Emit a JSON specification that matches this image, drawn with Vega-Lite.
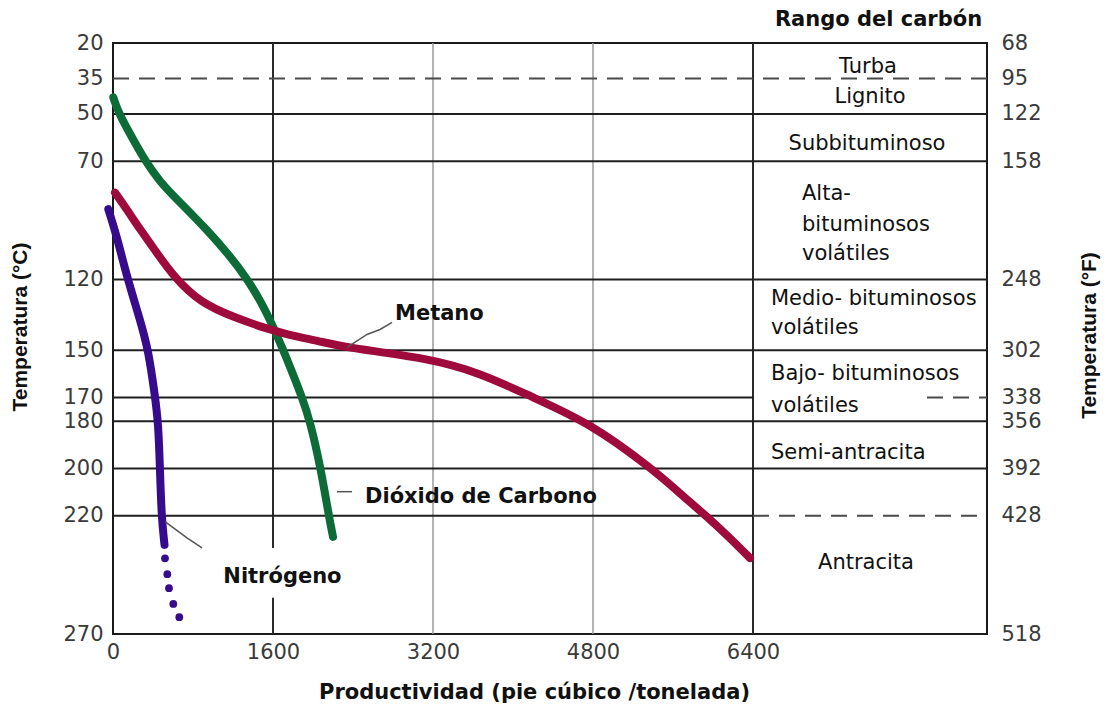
{
  "$schema": "https://vega.github.io/schema/vega-lite/v6.json",
  "width": 874,
  "height": 591,
  "autosize": {"type": "none"},
  "padding": {"left": 113, "top": 43, "right": 125, "bottom": 77},
  "background": "white",
  "config": {"view": {"stroke": "#1a1a1a", "strokeWidth": 2}},
  "datasets": {
    "vlight": [{"x": 3200}, {"x": 4800}],
    "vdark": [
      {"x": 1600, "t1": 20, "t2": 233.6},
      {"x": 1600, "t1": 254.7, "t2": 270},
      {"x": 6400, "t1": 20, "t2": 270}
    ],
    "hsolid": [
      {"t": 50, "x1": 0, "x2": 8740},
      {"t": 70, "x1": 0, "x2": 8740},
      {"t": 120, "x1": 0, "x2": 8740},
      {"t": 150, "x1": 0, "x2": 8740},
      {"t": 170, "x1": 0, "x2": 6400},
      {"t": 180, "x1": 0, "x2": 8740},
      {"t": 200, "x1": 0, "x2": 8740},
      {"t": 220, "x1": 0, "x2": 6400}
    ],
    "hdash": [
      {"t": 35, "x1": 0, "x2": 8740},
      {"t": 170, "x1": 8140, "x2": 8740},
      {"t": 220, "x1": 6400, "x2": 8740}
    ],
    "curves": [
      {"gas": "Dióxido de Carbono", "x": 3, "t": 43},
      {"gas": "Dióxido de Carbono", "x": 53, "t": 49.4},
      {"gas": "Dióxido de Carbono", "x": 200, "t": 60.7},
      {"gas": "Dióxido de Carbono", "x": 300, "t": 68.3},
      {"gas": "Dióxido de Carbono", "x": 470, "t": 78.9},
      {"gas": "Dióxido de Carbono", "x": 670, "t": 87.4},
      {"gas": "Dióxido de Carbono", "x": 935, "t": 98.8},
      {"gas": "Dióxido de Carbono", "x": 1160, "t": 109.6},
      {"gas": "Dióxido de Carbono", "x": 1340, "t": 119.6},
      {"gas": "Dióxido de Carbono", "x": 1490, "t": 130.2},
      {"gas": "Dióxido de Carbono", "x": 1600, "t": 139.8},
      {"gas": "Dióxido de Carbono", "x": 1700, "t": 149.7},
      {"gas": "Dióxido de Carbono", "x": 1790, "t": 159},
      {"gas": "Dióxido de Carbono", "x": 1890, "t": 169.8},
      {"gas": "Dióxido de Carbono", "x": 1975, "t": 180.6},
      {"gas": "Dióxido de Carbono", "x": 2080, "t": 200.5},
      {"gas": "Dióxido de Carbono", "x": 2160, "t": 220.4},
      {"gas": "Dióxido de Carbono", "x": 2200, "t": 228.9},
      {"gas": "Metano", "x": 20, "t": 83.3},
      {"gas": "Metano", "x": 137, "t": 90.3},
      {"gas": "Metano", "x": 270, "t": 98.8},
      {"gas": "Metano", "x": 437, "t": 108.7},
      {"gas": "Metano", "x": 603, "t": 118.6},
      {"gas": "Metano", "x": 870, "t": 129.9},
      {"gas": "Metano", "x": 1230, "t": 136.4},
      {"gas": "Metano", "x": 1537, "t": 140.8},
      {"gas": "Metano", "x": 1750, "t": 143.4},
      {"gas": "Metano", "x": 2070, "t": 146.2},
      {"gas": "Metano", "x": 2337, "t": 148.9},
      {"gas": "Metano", "x": 3137, "t": 153.2},
      {"gas": "Metano", "x": 3670, "t": 159.5},
      {"gas": "Metano", "x": 4170, "t": 169.4},
      {"gas": "Metano", "x": 4770, "t": 180.7},
      {"gas": "Metano", "x": 5403, "t": 200.5},
      {"gas": "Metano", "x": 5660, "t": 210.2},
      {"gas": "Metano", "x": 5930, "t": 220},
      {"gas": "Metano", "x": 6150, "t": 228.6},
      {"gas": "Metano", "x": 6370, "t": 237.9},
      {"gas": "Nitrógeno", "x": -47, "t": 90.3},
      {"gas": "Nitrógeno", "x": 37, "t": 101.6},
      {"gas": "Nitrógeno", "x": 137, "t": 118.6},
      {"gas": "Nitrógeno", "x": 270, "t": 137},
      {"gas": "Nitrógeno", "x": 353, "t": 149.7},
      {"gas": "Nitrógeno", "x": 420, "t": 169.4},
      {"gas": "Nitrógeno", "x": 453, "t": 180.7},
      {"gas": "Nitrógeno", "x": 470, "t": 200.5},
      {"gas": "Nitrógeno", "x": 485, "t": 220.3},
      {"gas": "Nitrógeno", "x": 515, "t": 232.3}
    ],
    "dots": [
      {"x": 520, "t": 238},
      {"x": 543, "t": 244.7},
      {"x": 560, "t": 250.6},
      {"x": 603, "t": 257.3},
      {"x": 663, "t": 262.9}
    ],
    "leaders": [
      {"leader": "Metano", "x": 2340, "t": 148.8},
      {"leader": "Metano", "x": 2540, "t": 143.3},
      {"leader": "Metano", "x": 2670, "t": 141.2},
      {"leader": "Metano", "x": 2790, "t": 138.2},
      {"leader": "CO2", "x": 2240, "t": 209.8},
      {"leader": "CO2", "x": 2390, "t": 209.8},
      {"leader": "N2", "x": 520, "t": 222.5},
      {"leader": "N2", "x": 740, "t": 229.3},
      {"leader": "N2", "x": 890, "t": 233.6}
    ],
    "gaslabels": [
      {"label": "Metano", "x": 2820, "t": 134.7},
      {"label": "Dióxido de Carbono", "x": 2520, "t": 212},
      {"label": "Nitrógeno", "x": 1103, "t": 245.9}
    ],
    "heading": [{"label": "Rango del carbón", "x": 7655, "t": 10.4}],
    "rankcenter": [
      {"label": "Turba", "x": 7550, "t": 30},
      {"label": "Lignito", "x": 7570, "t": 43},
      {"label": "Subbituminoso", "x": 7540, "t": 62.7},
      {"label": "Antracita", "x": 7530, "t": 239.9}
    ],
    "rankleft": [
      {"label": "Alta-", "x": 6890, "t": 83.9},
      {"label": "bituminosos", "x": 6890, "t": 97},
      {"label": "volátiles", "x": 6890, "t": 109.2},
      {"label": "Medio- bituminosos", "x": 6580, "t": 128.4},
      {"label": "volátiles", "x": 6580, "t": 140.6},
      {"label": "Bajo- bituminosos", "x": 6580, "t": 160.1},
      {"label": "volátiles", "x": 6580, "t": 173.6},
      {"label": "Semi-antracita", "x": 6580, "t": 193.3}
    ]
  },
  "layer": [
    {
      "data": {"name": "vlight"},
      "mark": {"type": "rule", "color": "#9a9a9a", "strokeWidth": 1.5},
      "encoding": {
        "x": {
          "field": "x", "type": "quantitative",
          "scale": {"domain": [0, 8740], "nice": false, "zero": false},
          "axis": {
            "values": [0, 1600, 3200, 4800, 6400], "format": "d",
            "title": "Productividad (pie cúbico /tonelada)",
            "grid": false, "ticks": false, "domain": false,
            "labelFont": "DejaVu Sans", "labelFontSize": 21, "labelColor": "#3a3a3a",
            "labelPadding": 7, "labelFlush": false, "labelOverlap": false,
            "titleFont": "DejaVu Sans", "titleFontSize": 21, "titleFontWeight": "bold",
            "titleColor": "#111111", "titleX": 421, "titleY": 58,
            "titleBaseline": "middle", "titleAlign": "center"
          }
        }
      }
    },
    {
      "data": {"name": "vdark"},
      "mark": {"type": "rule", "color": "#2a2a2a", "strokeWidth": 2},
      "encoding": {
        "x": {"field": "x", "type": "quantitative", "scale": {"domain": [0, 8740], "nice": false, "zero": false}},
        "y": {"field": "t1", "type": "quantitative", "scale": {"domain": [20, 270], "reverse": true, "nice": false, "zero": false}, "axis": null},
        "y2": {"field": "t2"}
      }
    },
    {
      "data": {"name": "hsolid"},
      "mark": {"type": "rule", "color": "#1f1f1f", "strokeWidth": 2},
      "encoding": {
        "y": {
          "field": "t", "type": "quantitative",
          "scale": {"domain": [20, 270], "reverse": true, "nice": false, "zero": false},
          "axis": {
            "orient": "left",
            "values": [20, 35, 50, 70, 120, 150, 170, 180, 200, 220, 270],
            "grid": false, "ticks": false, "domain": false,
            "labelFont": "DejaVu Sans", "labelFontSize": 21, "labelColor": "#3a3a3a",
            "labelPadding": 10, "labelOverlap": false, "labelFlush": false,
            "title": "Temperatura (°C)",
            "titleFont": "Liberation Sans", "titleFontSize": 21, "titleFontWeight": "bold",
            "titleColor": "#111111", "titleAngle": 270, "titleX": -93, "titleY": 283.5,
            "titleAlign": "center", "titleBaseline": "middle"
          }
        },
        "x": {"field": "x1", "type": "quantitative", "scale": {"domain": [0, 8740], "nice": false, "zero": false}},
        "x2": {"field": "x2"}
      }
    },
    {
      "data": {"name": "hdash"},
      "mark": {"type": "rule", "color": "#4a4a4a", "strokeWidth": 2, "strokeDash": [16, 10]},
      "encoding": {
        "y": {
          "field": "t", "type": "quantitative",
          "scale": {"domain": [20, 270], "reverse": true, "nice": false, "zero": false},
          "axis": {
            "orient": "right",
            "values": [20, 35, 50, 70, 120, 150, 170, 180, 200, 220, 270],
            "labelExpr": "format(datum.value * 1.8 + 32, 'd')",
            "grid": false, "ticks": false, "domain": false,
            "labelFont": "DejaVu Sans", "labelFontSize": 21, "labelColor": "#3a3a3a",
            "labelPadding": 14, "labelOverlap": false, "labelFlush": false,
            "title": "Temperatura (°F)",
            "titleFont": "Liberation Sans", "titleFontSize": 21, "titleFontWeight": "bold",
            "titleColor": "#111111", "titleAngle": 270, "titleX": 102, "titleY": 292,
            "titleAlign": "center", "titleBaseline": "middle"
          }
        },
        "x": {"field": "x1", "type": "quantitative", "scale": {"domain": [0, 8740], "nice": false, "zero": false}},
        "x2": {"field": "x2"}
      }
    },
    {
      "data": {"name": "curves"},
      "mark": {"type": "line", "strokeWidth": 8, "strokeCap": "round", "strokeJoin": "round", "interpolate": "basis", "clip": false},
      "encoding": {
        "x": {"field": "x", "type": "quantitative", "scale": {"domain": [0, 8740], "nice": false, "zero": false}},
        "y": {"field": "t", "type": "quantitative", "scale": {"domain": [20, 270], "reverse": true, "nice": false, "zero": false}, "axis": null},
        "order": {"field": "t", "type": "quantitative"},
        "color": {
          "field": "gas", "type": "nominal",
          "scale": {"domain": ["Dióxido de Carbono", "Metano", "Nitrógeno"], "range": ["#0d6b38", "#9e0a3c", "#360b8c"]},
          "legend": null
        }
      }
    },
    {
      "data": {"name": "dots"},
      "mark": {"type": "point", "shape": "circle", "filled": true, "opacity": 1, "size": 60, "color": "#360b8c"},
      "encoding": {
        "x": {"field": "x", "type": "quantitative", "scale": {"domain": [0, 8740], "nice": false, "zero": false}},
        "y": {"field": "t", "type": "quantitative", "scale": {"domain": [20, 270], "reverse": true, "nice": false, "zero": false}, "axis": null}
      }
    },
    {
      "data": {"name": "leaders"},
      "mark": {"type": "line", "color": "#555555", "strokeWidth": 1.5},
      "encoding": {
        "x": {"field": "x", "type": "quantitative", "scale": {"domain": [0, 8740], "nice": false, "zero": false}},
        "y": {"field": "t", "type": "quantitative", "scale": {"domain": [20, 270], "reverse": true, "nice": false, "zero": false}, "axis": null},
        "detail": {"field": "leader", "type": "nominal"},
        "order": {"field": "x", "type": "quantitative"}
      }
    },
    {
      "data": {"name": "gaslabels"},
      "mark": {"type": "text", "align": "left", "baseline": "middle", "font": "DejaVu Sans", "fontSize": 21, "fontWeight": "bold", "color": "#111111"},
      "encoding": {
        "x": {"field": "x", "type": "quantitative", "scale": {"domain": [0, 8740], "nice": false, "zero": false}},
        "y": {"field": "t", "type": "quantitative", "scale": {"domain": [20, 270], "reverse": true, "nice": false, "zero": false}, "axis": null},
        "text": {"field": "label"}
      }
    },
    {
      "data": {"name": "heading"},
      "mark": {"type": "text", "align": "center", "baseline": "middle", "font": "DejaVu Sans", "fontSize": 21, "fontWeight": "bold", "color": "#111111"},
      "encoding": {
        "x": {"field": "x", "type": "quantitative", "scale": {"domain": [0, 8740], "nice": false, "zero": false}},
        "y": {"field": "t", "type": "quantitative", "scale": {"domain": [20, 270], "reverse": true, "nice": false, "zero": false}, "axis": null},
        "text": {"field": "label"}
      }
    },
    {
      "data": {"name": "rankcenter"},
      "mark": {"type": "text", "align": "center", "baseline": "middle", "font": "DejaVu Sans", "fontSize": 21, "color": "#111111"},
      "encoding": {
        "x": {"field": "x", "type": "quantitative", "scale": {"domain": [0, 8740], "nice": false, "zero": false}},
        "y": {"field": "t", "type": "quantitative", "scale": {"domain": [20, 270], "reverse": true, "nice": false, "zero": false}, "axis": null},
        "text": {"field": "label"}
      }
    },
    {
      "data": {"name": "rankleft"},
      "mark": {"type": "text", "align": "left", "baseline": "middle", "font": "DejaVu Sans", "fontSize": 21, "color": "#111111"},
      "encoding": {
        "x": {"field": "x", "type": "quantitative", "scale": {"domain": [0, 8740], "nice": false, "zero": false}},
        "y": {"field": "t", "type": "quantitative", "scale": {"domain": [20, 270], "reverse": true, "nice": false, "zero": false}, "axis": null},
        "text": {"field": "label"}
      }
    }
  ],
  "resolve": {"axis": {"y": "independent"}}
}
